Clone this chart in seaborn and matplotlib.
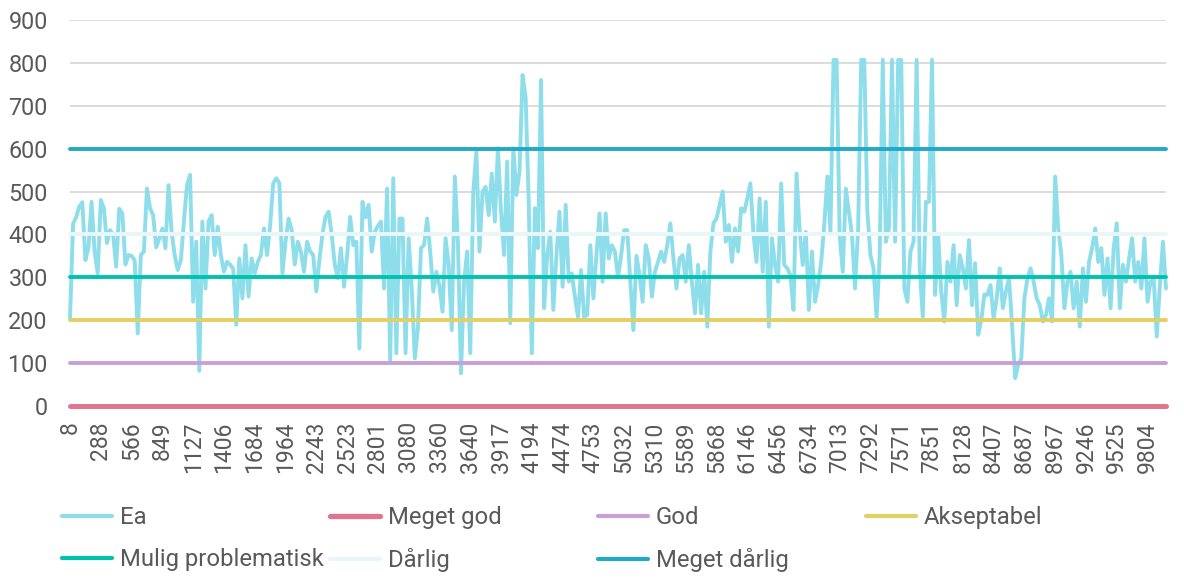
import numpy as np
import pandas as pd
import matplotlib
matplotlib.use("Agg")
import matplotlib.pyplot as plt
from matplotlib.lines import Line2D
import seaborn as sns

# ---- data ----
tick_labels = ["8", "288", "566", "849", "1127", "1406", "1684", "1964", "2243", "2523",
               "2801", "3080", "3360", "3640", "3917", "4194", "4474", "4753", "5032", "5310",
               "5589", "5868", "6146", "6456", "6734", "7013", "7292", "7571", "7851", "8128",
               "8407", "8687", "8967", "9246", "9525", "9804"]

ea_part1 = [205, 425, 440, 465, 475, 340, 370, 476, 360, 309,
            480, 461, 380, 410, 400, 325, 460, 449, 330, 352,
            350, 340, 169, 352, 360, 507, 461, 445, 370, 390,
            414, 368, 515, 406, 352, 317, 340, 430, 515, 539,
            243, 383, 82, 430, 274, 430, 445, 352, 418, 352,
            313, 336, 330, 320, 189, 344, 251, 375, 255, 344]
ea_part2 = [309, 336, 352, 414, 352, 420, 519, 531, 520, 309,
            383, 437, 410, 330, 383, 360, 313, 383, 360, 352,
            267, 340, 400, 441, 453, 400, 330, 298, 368, 278,
            350, 441, 375, 383, 134, 476, 440, 469, 360, 406,
            420, 430, 274, 507, 103, 531, 123, 437, 437, 123,
            391, 274, 111, 181, 368, 375, 437]
ea_part3 = [360, 267, 313, 280, 220, 391, 329, 177, 535, 383,
            76, 290, 360, 123, 500, 593, 360, 500, 511, 445,
            542, 430, 601, 453, 352, 570, 193, 601, 492, 546,
            772, 720, 476, 123, 461, 368, 760, 228, 352, 406,
            224, 352, 453, 278, 469, 290, 309, 255, 208, 317,
            208, 212, 375, 251, 352, 449, 290, 449, 344, 375]
ea_part4 = [360, 300, 350, 410, 410, 290, 177, 350, 305, 243,
            375, 344, 255, 313, 336, 360, 336, 375, 426, 344,
            274, 344, 352, 290, 375, 290, 216, 329, 216, 313,
            185, 360, 426, 437, 469, 500, 383, 422, 336, 414,
            360, 461, 453, 484, 519, 400, 336, 484, 313, 476,
            185, 391, 329, 290, 519, 329, 321, 305, 224, 542]
ea_part5 = [410, 329, 406, 224, 360, 243, 282, 336, 422, 535,
            406, 807, 807, 399, 313, 507, 453, 399, 274, 414,
            807, 807, 453, 352, 321, 204, 352, 807, 383, 414,
            807, 383, 807, 807, 274, 243, 360, 383, 807, 321,
            208, 476, 476, 807, 259, 399, 267, 197, 336, 290,
            375, 235, 352, 321, 274, 387, 235, 333, 166, 200,
            260]
ea_part6 = [259, 282, 204, 251, 321, 228, 267, 298, 189, 65,
            96, 111, 251, 298, 321, 290, 251, 235, 197, 212,
            251, 197, 535, 414, 352, 228, 290, 313, 228, 290,
            185, 321, 243, 336, 368, 414, 336, 368, 259, 344,
            228, 368, 426, 228, 329, 290, 344, 391, 290, 336,
            274, 391, 243, 290, 298, 162, 282, 383, 274]
ea = ea_part1 + ea_part2 + ea_part3 + ea_part4 + ea_part5 + ea_part6

threshold_names = ["Meget god", "God", "Akseptabel", "Mulig problematisk", "Dårlig", "Meget dårlig"]
threshold_values = [0, 100, 200, 300, 400, 600]
threshold_colors = ["#E07590", "#C9A0D6", "#E2D064", "#00C2AE", "#E9F6F8", "#22A9C6"]
threshold_widths = [3.6, 2.8, 2.8, 2.8, 2.8, 2.8]
ea_color = "#8EDDEB"

y_ticks = [0, 100, 200, 300, 400, 500, 600, 700, 800, 900]

# ---- plot ----
sns.set_theme(style="white")
plt.rcParams["font.family"] = ["Roboto", "DejaVu Sans"]
text_color = "#595959"

fig = plt.figure(figsize=(11.84, 5.86), dpi=100)
ax = fig.add_axes([70 / 1184, 1 - 406 / 586, 1096 / 1184, 386 / 586])

n = len(ea)
idx = np.arange(n)
df = pd.DataFrame({"idx": idx, "Ea": ea})
sns.lineplot(data=df, x="idx", y="Ea", ax=ax, color=ea_color, linewidth=2.8,
             legend=False, zorder=3)
for name, val, col, lw in zip(threshold_names, threshold_values, threshold_colors, threshold_widths):
    sns.lineplot(x=idx, y=np.full(n, val), ax=ax, color=col, linewidth=lw,
                 legend=False, zorder=4)
for ln in ax.lines:
    ln.set_clip_on(False)

ax.set_xlim(0, n - 1)
ax.set_ylim(0, 900)
ax.set_yticks(y_ticks)
ax.set_yticklabels([str(v) for v in y_ticks], fontsize=16.8, color=text_color)
ax.yaxis.grid(True, color="#D9D9D9", linewidth=1.3)
ax.set_axisbelow(True)
tick_pos = np.arange(len(tick_labels)) * 10
ax.set_xticks(tick_pos)
ax.set_xticklabels(tick_labels, rotation=90, fontsize=16.5, color=text_color)
ax.tick_params(axis="y", length=0, pad=16)
ax.tick_params(axis="x", length=0, pad=11)
ax.set_xlabel("")
ax.set_ylabel("")
for s in ax.spines.values():
    s.set_visible(False)

# legend: four columns of equal spacing
def handle(col, lw):
    return Line2D([0], [0], color=col, linewidth=lw, solid_capstyle="round")

columns = [
    [(ea_color, 3.0, "Ea"), (threshold_colors[3], 3.0, threshold_names[3])],
    [(threshold_colors[0], 3.8, threshold_names[0]), (threshold_colors[4], 3.0, threshold_names[4])],
    [(threshold_colors[1], 3.0, threshold_names[1]), (threshold_colors[5], 3.0, threshold_names[5])],
    [(threshold_colors[2], 3.0, threshold_names[2])],
]
col_x = [62, 330, 598, 866]
for cx, entries in zip(col_x, columns):
    leg = fig.legend(handles=[handle(c, w) for c, w, _ in entries],
                     labels=[l for _, _, l in entries],
                     loc="upper left", bbox_to_anchor=(cx / 1184, 1 - 506 / 586),
                     frameon=False, fontsize=17.2, handlelength=2.1, handletextpad=0.33,
                     labelspacing=0.8, borderpad=0, borderaxespad=0)
    for t in leg.get_texts():
        t.set_color(text_color)

fig.savefig("out.png", dpi=100)
